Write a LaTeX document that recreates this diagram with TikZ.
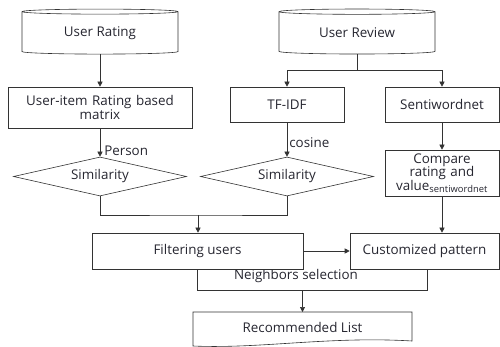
\documentclass[tikz,border=0pt]{standalone}
\usepackage{fontspec}
\setmainfont{Open Sans}
\usetikzlibrary{shapes.geometric,arrows.meta}
\definecolor{linegray}{HTML}{333333}
\definecolor{textgray}{HTML}{262630}

\begin{document}
\begin{tikzpicture}[x=1pt,y=-1pt,font=\fontsize{13.4}{13.5}\selectfont,text=textgray,line width=0.6pt,
    box/.style={draw=linegray, rectangle, fill=white, inner sep=1pt, align=center},
    db/.style={draw=linegray, cylinder, shape border rotate=90, aspect=0.07, minimum width=156pt, minimum height=45pt, inner sep=0pt},
    decision/.style={draw=linegray, diamond, aspect=4.4, minimum width=173pt, minimum height=39pt, inner sep=0pt},
    arr/.style={draw=linegray, -{Triangle[length=5pt,width=5pt]}}]
    \useasboundingbox (0,0) rectangle (500,347);

    % Sources
    \node[db] (rating) at (100,33) {User Rating};
    \node[db] (review) at (357,33) {User Review};

    % Second row
    \node[box, minimum width=184pt, minimum height=41pt, text width=182pt, inner sep=0pt] (matrix) at (100,107.5) {User-item Rating based\\ matrix};
    \node[box, minimum width=114pt, minimum height=35pt] (tfidf) at (287,104.5) {TF-IDF};
    \node[box, minimum width=114pt, minimum height=35pt] (senti) at (442,104.5) {Sentiwordnet};

    % Third row
    \node[decision] (sim-1) at (100,176.5) {Similarity};
    \node[decision] (sim-2) at (287,176.5) {Similarity};
    \node[box, minimum width=114pt, minimum height=46pt, text width=112pt, inner sep=0pt] (compare) at (442,173) {Compare\\ rating and\\ value\textsubscript{sentiwordnet}};

    % Neighbors selection (under the two boxes)
    \node[rectangle, minimum width=229pt, minimum height=21pt, inner sep=0pt] (neighbors) at (312.5,279.5) {};
    \draw[draw=linegray] (neighbors.north west) -- (neighbors.south west) -- (neighbors.south east) -- (neighbors.north east);
    \node (neighbors-text) at (296,276) {Neighbors selection};

    % Fourth row
    \node[box, minimum width=211pt, minimum height=36pt] (filter) at (197.5,251) {Filtering users};
    \node[box, minimum width=149pt, minimum height=36pt, inner sep=0pt] (custom) at (424.5,251) {Customized pattern};

    % Result
    \coordinate (list-nw) at (193,312);
    \coordinate (list-ne) at (412,312);
    \draw[draw=linegray] (list-nw) -- (list-ne) -- (412,341) .. controls (330,336) and (260,349) .. (193,346) -- cycle;
    \node (list) at (302.5,327) {Recommended List};

    % Connectors
    \draw[arr] (rating.south) -- (matrix.north);
    \coordinate (split) at (357,70);
    \draw[draw=linegray] (review.south) -- (split);
    \draw[arr] (split) -| (tfidf.north);
    \draw[arr] (split) -| (senti.north);
    \draw[arr] (matrix.south) -- node[right, pos=0.8, inner sep=4pt] {Person} (sim-1.north);
    \draw[arr] (tfidf.south) -- node[right, pos=0.6, inner sep=2pt] {cosine} (sim-2.north);
    \draw[arr] (senti.south) -- (compare.north);
    \coordinate (join) at (198,215);
    \draw[draw=linegray] (sim-1.south) |- (join) -| (sim-2.south);
    \draw[arr] (join) -- (join |- filter.north);
    \draw[arr] (compare.south) -- (compare.south |- custom.north);
    \draw[arr] (filter.east) -- (custom.west);
    \draw[arr] (neighbors.south -| list) -- (list-nw -| list);
\end{tikzpicture}
\end{document}
